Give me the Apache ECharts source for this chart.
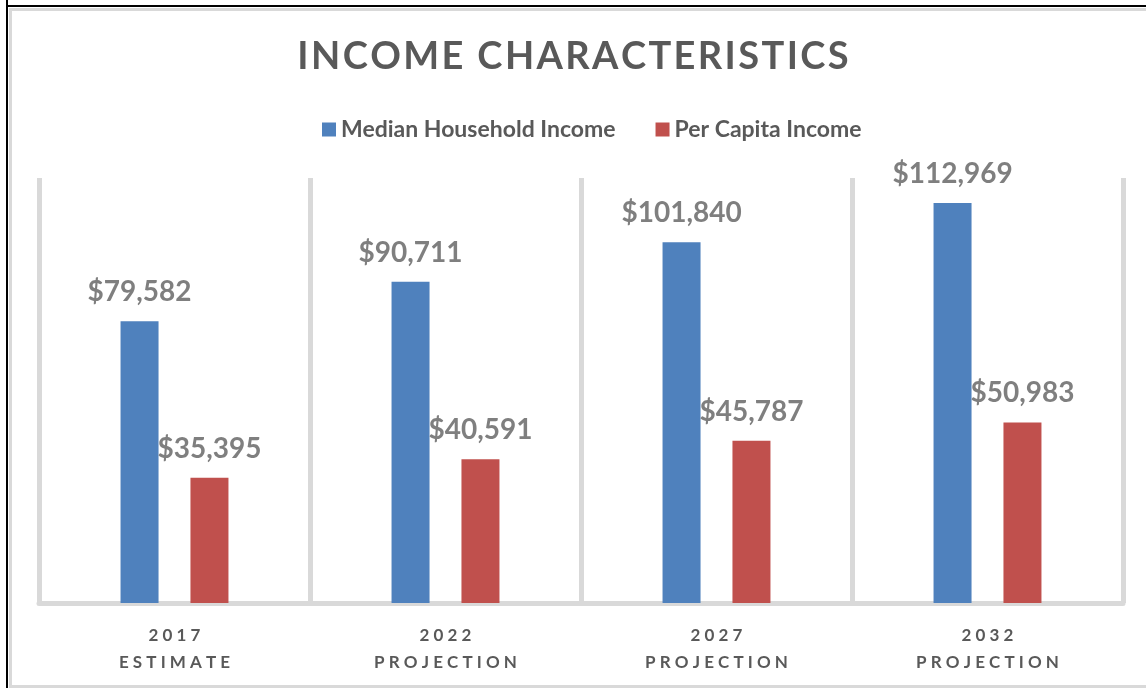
<!DOCTYPE html>
<html>
<head>
<meta charset="utf-8">
<script src="https://cdn.jsdelivr.net/npm/echarts@6/dist/echarts.min.js"></script>
<style>
  html, body { margin: 0; padding: 0; background: #fff; overflow: hidden; }
  #chart { width: 1146px; height: 688px; }
</style>
</head>
<body>
<div id="chart"></div>
<script>
// Data
const categories = ['2017\nESTIMATE', '2022\nPROJECTION', '2027\nPROJECTION', '2032\nPROJECTION'];
const medianHousehold = [79582, 90711, 101840, 112969];
const perCapita = [35395, 40591, 45787, 50983];
const titleText = 'INCOME CHARACTERISTICS';

const fontFamily = 'Lato, "Open Sans", sans-serif';
const fmt = v => '$' + v.toLocaleString('en-US');
// fake letter spacing, echarts text has no letterSpacing option
const spaced = (s, sep) => s.split('\n').map(line => line.split('').join(sep)).join('\n');

const chart = echarts.init(document.getElementById('chart'));

const labelStyle = {
  show: true,
  position: 'top',
  distance: 15,
  formatter: p => fmt(p.value),
  color: '#7f7f7f',
  fontFamily: fontFamily,
  fontWeight: 'bold',
  fontSize: 28
};

const option = {
  backgroundColor: '#fff',
  title: {
    text: spaced(titleText, '\u200A'),
    left: 'center',
    top: 33,
    textStyle: {
      color: '#595959',
      fontFamily: fontFamily,
      fontWeight: 'bold',
      fontSize: 38
    }
  },
  legend: {
    top: 113,
    left: 317,
    itemWidth: 14,
    itemHeight: 14,
    itemGap: 40,
    icon: 'rect',
    textStyle: {
      color: '#595959',
      fontFamily: fontFamily,
      fontWeight: 'bold',
      fontSize: 23
    }
  },
  grid: { left: 39, right: 23, top: 178, bottom: 85 },
  xAxis: {
    type: 'category',
    data: categories,
    axisLine: { lineStyle: { color: '#d9d9d9', width: 5 } },
    axisTick: { show: false },
    splitLine: { show: true, lineStyle: { color: '#d9d9d9', width: 5 } },
    axisLabel: {
      margin: 19,
      color: '#595959',
      fontFamily: fontFamily,
      fontWeight: 'bold',
      fontSize: 17,
      lineHeight: 27,
      formatter: v => spaced(v, ' ')
    }
  },
  yAxis: {
    type: 'value',
    min: 0,
    max: 120000,
    show: false,
    splitLine: { show: false }
  },
  graphic: [
    { type: 'line', shape: { x1: 7, y1: 0, x2: 7, y2: 688 }, style: { stroke: '#000', lineWidth: 2 }, silent: true },
    { type: 'line', shape: { x1: 7, y1: 6, x2: 1146, y2: 6 }, style: { stroke: '#000', lineWidth: 2 }, silent: true },
    { type: 'line', shape: { x1: 10.5, y1: 9, x2: 10.5, y2: 688 }, style: { stroke: '#d9d9d9', lineWidth: 3 }, silent: true },
    { type: 'line', shape: { x1: 9, y1: 9.5, x2: 1146, y2: 9.5 }, style: { stroke: '#d9d9d9', lineWidth: 3 }, silent: true },
    { type: 'line', shape: { x1: 9, y1: 686.5, x2: 1146, y2: 686.5 }, style: { stroke: '#d9d9d9', lineWidth: 3 }, silent: true }
  ],
  series: [
    {
      name: 'Median Household Income',
      type: 'bar',
      data: medianHousehold,
      barWidth: 38,
      barGap: '84%',
      itemStyle: { color: '#4f81bd' },
      label: labelStyle
    },
    {
      name: 'Per Capita Income',
      type: 'bar',
      data: perCapita,
      barWidth: 38,
      itemStyle: { color: '#c0504d' },
      label: labelStyle
    }
  ]
};

chart.setOption(option);
</script>
</body>
</html>
